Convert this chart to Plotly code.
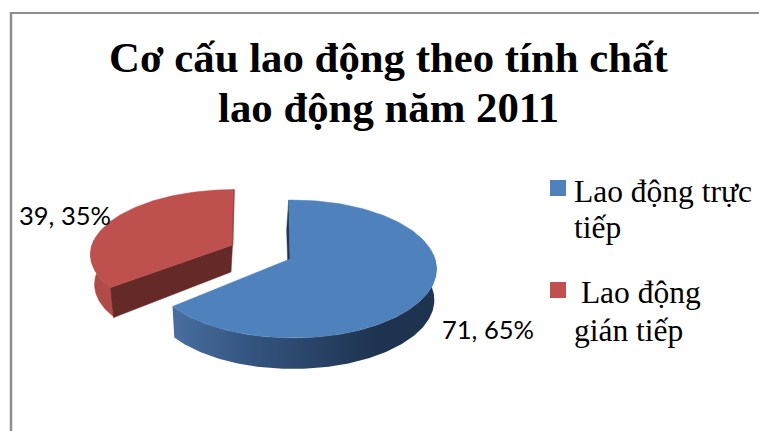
import math
import plotly.graph_objects as go

# Chart data
categories = ["Lao động trực tiếp", "Lao động gián tiếp"]
values = [71, 39]
point_labels = ["71, 65%", "39, 35%"]
title_lines = ["Cơ cấu lao động theo tính chất", "lao động năm 2011"]
legend_lines = [["Lao động trực", "tiếp"], [" Lao động", "gián tiếp"]]

W, H = 759, 431
TILT = 0.145          # perspective strength of the tilted disc
SERIF = "Liberation Serif"

total = sum(values)
sweep_main = 2 * math.pi * values[0] / total


def project(theta, center, rx, ry):
    """Map an angle (clockwise from north) on the disc to the tilted view."""
    u, v = math.sin(theta), math.cos(theta)
    s = 1 / (1 + TILT * v)
    return center[0] + rx * u * s, center[1] - ry * v * s


def arc(a, b, center, rx, ry, n=120):
    return [project(a + (b - a) * i / n, center, rx, ry) for i in range(n + 1)]


def poly(points, fill, **extra):
    xs = [p[0] for p in points] + [points[0][0]]
    ys = [p[1] for p in points] + [points[0][1]]
    return go.Scatter(x=xs, y=ys, mode="lines", fill="toself", fillcolor=fill,
                      line=dict(color=fill, width=0.5),
                      hoverinfo="skip", showlegend=False, **extra)


fig = go.Figure()

# Exploded smaller slice: outer wall, cut wall, then top face
disc_red = (234, 245)
apex_red = (232.5, 245)
rx_red, ry_red, depth_red = 142, 63.5, 30
a0, a1 = sweep_main, 2 * math.pi
left_corner = project(a0, disc_red, rx_red, ry_red)
back_corner = project(a1, disc_red, rx_red, ry_red)
red_wall = arc(a0, a0 + math.radians(42), disc_red, rx_red, ry_red, n=30)
fig.add_trace(poly(red_wall + [(x + 4, y + depth_red) for x, y in reversed(red_wall)], "#B04B48"))
fig.add_trace(poly([apex_red, left_corner, (left_corner[0] + 3, left_corner[1] + depth_red),
                    (apex_red[0] - 1.5, apex_red[1] + depth_red - 3)], "#652927"))
fig.add_trace(poly([apex_red] + arc(a0, a1, disc_red, rx_red, ry_red), "#BE504D"))
fig.add_trace(go.Scatter(x=[back_corner[0], apex_red[0]], y=[back_corner[1], apex_red[1]], mode="lines",
                         line=dict(color="#A44644", width=1.5), hoverinfo="skip", showlegend=False))

# Larger slice: sliver of the back cut, shaded rim, top face
disc_blue = (293, 259)
apex_blue = (290, 259)
rx_blue, ry_blue, depth_blue = 142, 67.5, 31
spin = math.radians(-2)
b0, b1 = spin, spin + sweep_main
blue_top = project(b0, disc_blue, rx_blue, ry_blue)
fig.add_trace(poly([blue_top, (blue_top[0] - 2, blue_top[1] + 30),
                    (apex_blue[0] - 2, apex_blue[1] + 12), apex_blue], "#1F3552"))

rim_arc = arc(math.radians(85), b1, disc_blue, rx_blue, ry_blue, n=150)
rim_floor = [(disc_blue[0] + (x - disc_blue[0]) * 0.985, y + depth_blue) for x, y in reversed(rim_arc)]
fig.add_trace(poly(rim_arc + rim_floor, "#2F4D75", fillgradient=dict(
    type="horizontal",
    colorscale=[[0.0, "rgb(72,110,160)"], [0.3, "rgb(52,84,127)"],
                [0.65, "rgb(36,60,92)"], [0.78, "rgb(30,51,80)"], [1.0, "rgb(30,51,80)"]],
)))
fig.data[-1].line.width = 0
fig.add_trace(poly([apex_blue] + arc(b0, b1, disc_blue, rx_blue, ry_blue, n=160), "#4F81BD"))

shapes = [
    # Frame round the chart area
    dict(type="line", x0=11, x1=11, y0=12, y1=H, line=dict(color="#8E8E8E", width=2.5)),
    dict(type="line", x0=10, x1=W, y0=13, y1=13, line=dict(color="#8E8E8E", width=2)),
    # Legend swatches
    dict(type="rect", x0=550, x1=566, y0=180, y1=196, fillcolor="#4F81BD", line_width=0),
    dict(type="rect", x0=550, x1=566, y0=282, y1=298, fillcolor="#C0504D", line_width=0),
]


def text(x, y, s, size, family=SERIF, bold=False, anchor="left"):
    return dict(x=x, y=y, text=f"<b>{s}</b>" if bold else s, showarrow=False,
                xanchor=anchor, yanchor="middle", xref="x", yref="y",
                font=dict(family=family, size=size, color="#000000"), borderpad=0)


annotations = [
    text(388.5, 57, title_lines[0], 42.8, bold=True, anchor="center"),
    text(388, 107, title_lines[1], 42.8, bold=True, anchor="center"),
    text(573, 191, legend_lines[0][0], 31.5),
    text(573, 227, legend_lines[0][1], 31.5),
    text(572, 292, legend_lines[1][0], 31.5),
    text(573, 330, legend_lines[1][1], 31.5),
    text(441, 328.5, point_labels[0], 25.5, family="Lato"),
    text(18, 215, point_labels[1], 25.5, family="Lato"),
]

fig.update_layout(
    width=W, height=H, margin=dict(l=0, r=0, t=0, b=0),
    paper_bgcolor="#FFFFFF", plot_bgcolor="#FFFFFF", showlegend=False,
    xaxis=dict(range=[0, W], visible=False, fixedrange=True),
    yaxis=dict(range=[H, 0], visible=False, fixedrange=True),
    shapes=shapes, annotations=annotations,
)
fig.write_html("out.html", config=dict(displayModeBar=False))
